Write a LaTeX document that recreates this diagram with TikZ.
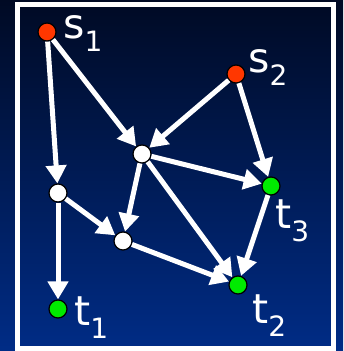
\documentclass[tikz,border=0pt]{standalone}
\usepackage{fontspec}
\setmainfont{DejaVu Sans}
\usetikzlibrary{arrows.meta}

\definecolor{merah}{RGB}{255,55,0}
\definecolor{hijau}{RGB}{0,235,0}
\definecolor{atas}{RGB}{0,10,36}
\definecolor{bawah}{RGB}{0,44,134}

\newcommand{\idx}[2]{#1\raisebox{-13pt}{\fontsize{28}{28}\selectfont #2}}

\tikzset{
  titik/.style={circle, draw=black, line width=1.2pt, minimum size=18pt, inner sep=0pt},
  panah/.style={draw=white, line width=5pt, -{Triangle[length=18pt,width=20pt]}},
  nama/.style={text=white, inner sep=0pt, anchor=base west, font=\fontsize{41}{41}\selectfont}
}

\begin{document}
\begin{tikzpicture}[x=1pt, y=-1pt]

      % latar belakang
      \useasboundingbox (0,0) rectangle (343,351);
      \shade[top color=atas, bottom color=bawah] (0,0) rectangle (343,351);
      \draw[white, line width=5pt] (17.5,4.5) rectangle (333.5,348.5);

      % titik sumber, tengah, tujuan
      \node[titik, fill=merah] (s1) at (47,32) {};
      \node[titik, fill=merah] (s2) at (236,74) {};
      \node[titik, fill=white] (c) at (142,154) {};
      \node[titik, fill=white] (a) at (58,193) {};
      \node[titik, fill=white] (b) at (123,241) {};
      \node[titik, fill=hijau] (t3) at (271,186) {};
      \node[titik, fill=hijau] (t2) at (238,285) {};
      \node[titik, fill=hijau] (t1) at (58,309) {};

      % nama titik
      \node[nama] (ls1) at (63,38) {\idx{s}{1}};
      \node[nama] (ls2) at (248,72) {\idx{s}{2}};
      \node[nama] (lt3) at (275,228) {\idx{t}{3}};
      \node[nama] (lt2) at (252,323) {\idx{t}{2}};
      \node[nama] (lt1) at (74,325) {\idx{t}{1}};

      % sisi berarah
      \foreach \u/\v in {s1/a, s1/c, s2/c, s2/t3, c/t3, c/b, c/t2, a/b, a/t1, b/t2, t3/t2} {
          \draw[panah] (\u) -- (\v);
        }
    \end{tikzpicture}
\end{document}
